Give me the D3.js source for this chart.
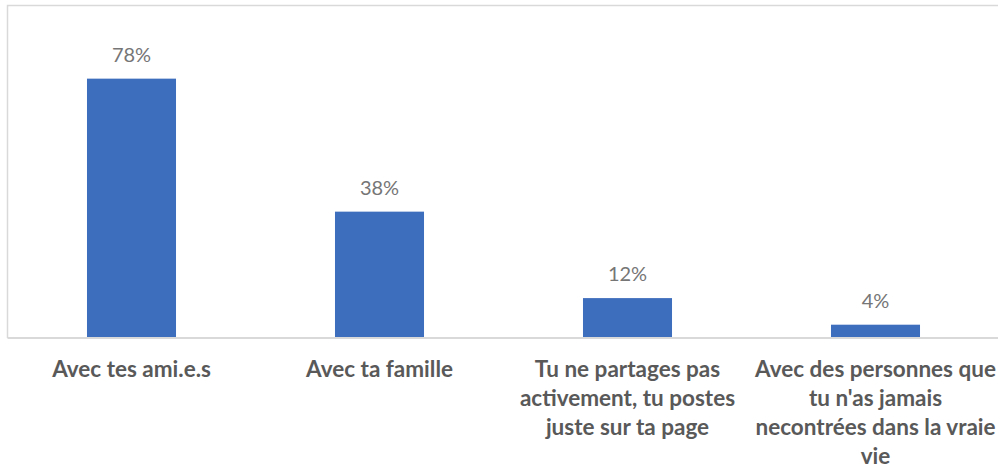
<!DOCTYPE html>
<html><head><meta charset="utf-8">
<script src="https://cdn.jsdelivr.net/npm/d3@7"></script>
<style>html,body{margin:0;padding:0;background:#fff;}svg{display:block;}</style>
</head><body>
<svg id="c" width="998" height="470"></svg>
<script>
const categories = ["Avec tes ami.e.s", "Avec ta famille", "Tu ne partages pas activement, tu postes juste sur ta page", "Avec des personnes que tu n'as jamais necontrées dans la vraie vie"];
const values = [78, 38, 12, 4];
const valueLabels = ["78%", "38%", "12%", "4%"];
const tickLines = [
  ["Avec tes ami.e.s"],
  ["Avec ta famille"],
  ["Tu ne partages pas", "activement, tu postes", "juste sur ta page"],
  ["Avec des personnes que", "tu n'as jamais", "necontrées dans la vraie", "vie"]
];

const svg = d3.select("#c");
const pLeft = 7.5, pRight = 999.5, pTop = 5.5, pBase = 338;
const x = d3.scaleBand().domain(categories).range([pLeft, pRight]).paddingInner(0.641).paddingOuter(0.3205);
const y = d3.scaleLinear().domain([0, 100]).range([pBase, pTop]);

svg.append("path")
  .attr("d", `M${pLeft},${pBase}V${pTop}H998`)
  .attr("fill", "none").attr("stroke", "#d9d9d9").attr("stroke-width", 1.5);

svg.selectAll("rect.bar").data(values).join("rect")
  .attr("class", "bar")
  .attr("x", (d, i) => x(categories[i]))
  .attr("width", x.bandwidth())
  .attr("y", d => y(d))
  .attr("height", d => pBase - y(d))
  .attr("fill", "#3d6dbd");

const axis = d3.axisBottom(x).tickSize(0).tickFormat("");
const ga = svg.append("g").attr("transform", `translate(0,${pBase})`).call(axis);
ga.select(".domain").attr("stroke", "#d9d9d9").attr("stroke-width", 2).attr("d", `M${pLeft},0H998`);

svg.selectAll("text.val").data(values).join("text")
  .attr("class", "val")
  .attr("x", (d, i) => x(categories[i]) + x.bandwidth() / 2)
  .attr("y", d => y(d) - 17)
  .attr("text-anchor", "middle")
  .attr("font-family", "Lato, 'Open Sans', sans-serif")
  .attr("font-size", 20)
  .attr("fill", "#767676")
  .text((d, i) => valueLabels[i]);

const cat = svg.selectAll("text.cat").data(tickLines).join("text")
  .attr("class", "cat")
  .attr("text-anchor", "middle")
  .attr("font-family", "Lato, 'Open Sans', sans-serif")
  .attr("font-weight", "bold")
  .attr("font-size", 22.5)
  .attr("fill", "#595959");
cat.each(function(lines, i) {
  const cx = x(categories[i]) + x.bandwidth() / 2;
  d3.select(this).selectAll("tspan").data(lines).join("tspan")
    .attr("x", cx)
    .attr("y", (l, j) => 377 + j * 29)
    .text(l => l);
});
</script>
</body></html>
